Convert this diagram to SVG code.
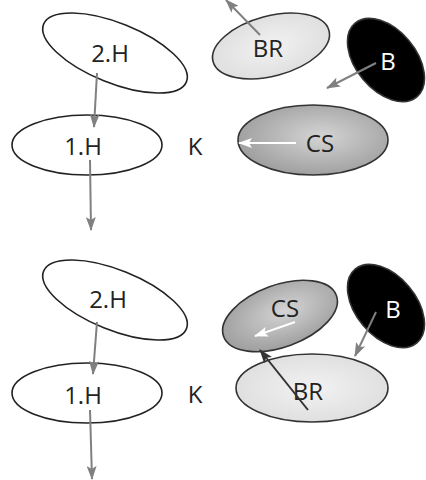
<svg xmlns="http://www.w3.org/2000/svg" width="426" height="480" viewBox="0 0 426 480">
<defs>
<style>
.lbl{font-family:"Open Sans","Liberation Sans",sans-serif;font-size:24px;text-anchor:middle;dominant-baseline:central;fill:#222}
.wl{fill:#fff}
.plain{fill:#fff;stroke:#222;stroke-width:1.6}
.node{stroke:#333;stroke-width:1.6}
.g{stroke:#808080;stroke-width:2;fill:none}
.w{stroke:#fff;stroke-width:2;fill:none}
.d{stroke:#333;stroke-width:2;fill:none}
</style>
<marker id="ag" viewBox="0 0 14 10" refX="13" refY="5" markerWidth="14" markerHeight="10" markerUnits="userSpaceOnUse" orient="auto"><path d="M0,0 L14,5 L0,10 L3,5 Z" fill="#808080"/></marker>
<marker id="aw" viewBox="0 0 14 10" refX="13" refY="5" markerWidth="14" markerHeight="10" markerUnits="userSpaceOnUse" orient="auto"><path d="M0,0 L14,5 L0,10 L3,5 Z" fill="#fff"/></marker>
<marker id="ad" viewBox="0 0 14 10" refX="13" refY="5" markerWidth="14" markerHeight="10" markerUnits="userSpaceOnUse" orient="auto"><path d="M0,0 L14,5 L0,10 L3,5 Z" fill="#333"/></marker>
<radialGradient id="csg" cx="0.55" cy="0.45" r="0.6"><stop offset="0" stop-color="#d4d4d4"/><stop offset="1" stop-color="#9c9c9c"/></radialGradient>
<radialGradient id="brg" cx="0.5" cy="0.5" r="0.6"><stop offset="0" stop-color="#f2f2f2"/><stop offset="1" stop-color="#dcdcdc"/></radialGradient>
</defs>
<rect width="426" height="480" fill="#fff"/>

<g id="top-2H"><ellipse class="plain" cx="115" cy="53" rx="77" ry="30" transform="rotate(22 115 53)"/><text class="lbl" x="110" y="52">2.H</text></g>
<g id="top-1H"><ellipse class="plain" cx="87" cy="145" rx="75" ry="30"/><text class="lbl" x="83" y="145">1.H</text></g>
<g id="top-K"><text class="lbl" x="195" y="145">K</text></g>
<g id="top-BR"><ellipse class="node" fill="url(#brg)" cx="271" cy="46" rx="60" ry="30" transform="rotate(-15 271 46)"/><text class="lbl" x="268" y="47">BR</text></g>
<g id="top-B"><ellipse class="node" fill="#000" cx="386" cy="60" rx="48" ry="30" transform="rotate(50 386 60)"/><text class="lbl wl" x="388" y="60">B</text></g>
<g id="top-CS"><ellipse class="node" fill="url(#csg)" cx="313" cy="140" rx="75" ry="35"/><text class="lbl" x="320" y="142">CS</text></g>

<g id="bot-2H"><ellipse class="plain" cx="115" cy="300" rx="77" ry="30" transform="rotate(22 115 300)"/><text class="lbl" x="108" y="298">2.H</text></g>
<g id="bot-1H"><ellipse class="plain" cx="87" cy="393" rx="75" ry="30"/><text class="lbl" x="83" y="394">1.H</text></g>
<g id="bot-K"><text class="lbl" x="195" y="393">K</text></g>
<g id="bot-CS"><ellipse class="node" fill="url(#csg)" cx="280" cy="316" rx="60" ry="31" transform="rotate(-20 280 316)"/><text class="lbl" x="285" y="307">CS</text></g>
<g id="bot-B"><ellipse class="node" fill="#000" cx="386" cy="306" rx="48" ry="30" transform="rotate(50 386 306)"/><text class="lbl wl" x="393" y="308">B</text></g>
<g id="bot-BR"><ellipse class="node" fill="url(#brg)" cx="312" cy="388" rx="76" ry="34"/><text class="lbl" x="308" y="390">BR</text></g>

<g id="connectors">
<line class="g" x1="97" y1="73" x2="94" y2="127" marker-end="url(#ag)"/>
<line class="g" x1="90" y1="160" x2="91" y2="230" marker-end="url(#ag)"/>
<line class="g" x1="260" y1="35" x2="226" y2="0" marker-end="url(#ag)"/>
<line class="g" x1="376" y1="63" x2="327" y2="88" marker-end="url(#ag)"/>
<line class="w" x1="296" y1="143" x2="239" y2="143" marker-end="url(#aw)"/>
<line class="g" x1="97" y1="322" x2="93" y2="374" marker-end="url(#ag)"/>
<line class="g" x1="90" y1="410" x2="92" y2="479" marker-end="url(#ag)"/>
<line class="w" x1="295" y1="322" x2="255" y2="336" marker-end="url(#aw)"/>
<line class="g" x1="376" y1="312" x2="355" y2="356" marker-end="url(#ag)"/>
<line class="d" x1="308" y1="410" x2="260" y2="350" marker-end="url(#ad)"/>
</g>
</svg>
